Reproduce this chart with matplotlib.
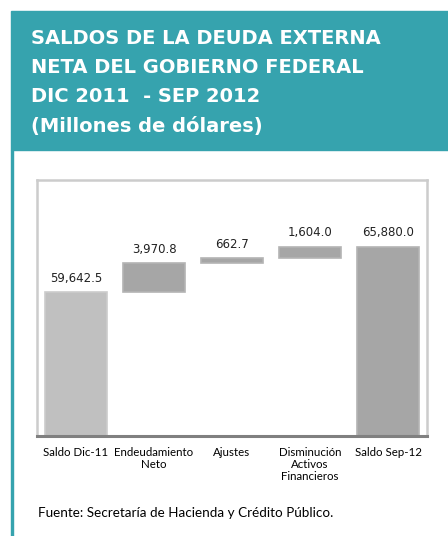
import numpy as np
import matplotlib
matplotlib.use('Agg')
import matplotlib.pyplot as plt
from matplotlib.patches import Rectangle

# datos (millones de dolares)
categories = ['Saldo Dic-11', 'Endeudamiento\nNeto', 'Ajustes',
              'Disminución\nActivos\nFinancieros', 'Saldo Sep-12']
values = [59642.5, 3970.8, 662.7, 1604.0, 65880.0]
labels = ['59,642.5', '3,970.8', '662.7', '1,604.0', '65,880.0']
is_total = [True, False, False, False, True]

teal = '#36a3ae'

fig = plt.figure(figsize=(4.48, 5.36), dpi=100)

# encabezado
fig.patches.append(Rectangle((11 / 448, 1 - 150 / 536), 437 / 448, 139 / 536,
                             transform=fig.transFigure, color=teal, zorder=0))
fig.patches.append(Rectangle((11 / 448, 0), 2 / 448, 1 - 150 / 536,
                             transform=fig.transFigure, color=teal, zorder=0))
title_lines = ['SALDOS DE LA DEUDA EXTERNA', 'NETA DEL GOBIERNO FEDERAL',
               'DIC 2011  - SEP 2012', '(Millones de dólares)']
for i, t in enumerate(title_lines):
    fig.text(31 / 448, 1 - (38 + i * 29.5) / 536, t, color='white',
             fontsize=14, fontweight='bold', family='DejaVu Sans',
             va='center', ha='left')

ax = fig.add_axes([37 / 448, 1 - 436 / 536, 390 / 448, 256 / 536])

bottoms = []
running = 0
for v, tot in zip(values, is_total):
    if tot:
        bottoms.append(0)
        running = v
    else:
        bottoms.append(running)
        running += v

x = np.arange(len(values))
colors = ['#c0c0c0' if i == 0 else '#a6a6a6' for i in range(len(values))]
edges = ['#cccccc' if i == 0 else '#b4b4b4' for i in range(len(values))]
ax.bar(x, values, bottom=bottoms, width=0.8, color=colors,
       edgecolor=edges, linewidth=1.2, zorder=2)

for xi, v, b, lab in zip(x, values, bottoms, labels):
    ax.text(xi, b + v + 1000, lab, ha='center', va='bottom', fontsize=8.5,
            family='DejaVu Sans', color='#222222')

ax.set_xlim(-0.5, 4.5)
ax.set_ylim(40000, 75000)
ax.set_yticks([])
ax.set_xticks(x)
ax.set_xticklabels(categories, fontsize=8.3, family='Lato', linespacing=1.1)
ax.tick_params(axis='x', length=0, pad=8)
for s in ['left', 'right', 'top']:
    ax.spines[s].set_color('#cccccc')
    ax.spines[s].set_linewidth(1.8)
ax.spines['bottom'].set_color('#808080')
ax.spines['bottom'].set_linewidth(2.2)

fig.text(38 / 448, 1 - 513 / 536, 'Fuente: Secretaría de Hacienda y Crédito Público.',
         fontsize=9.7, family='Lato', va='center', ha='left')

fig.savefig('out.png', dpi=100)
